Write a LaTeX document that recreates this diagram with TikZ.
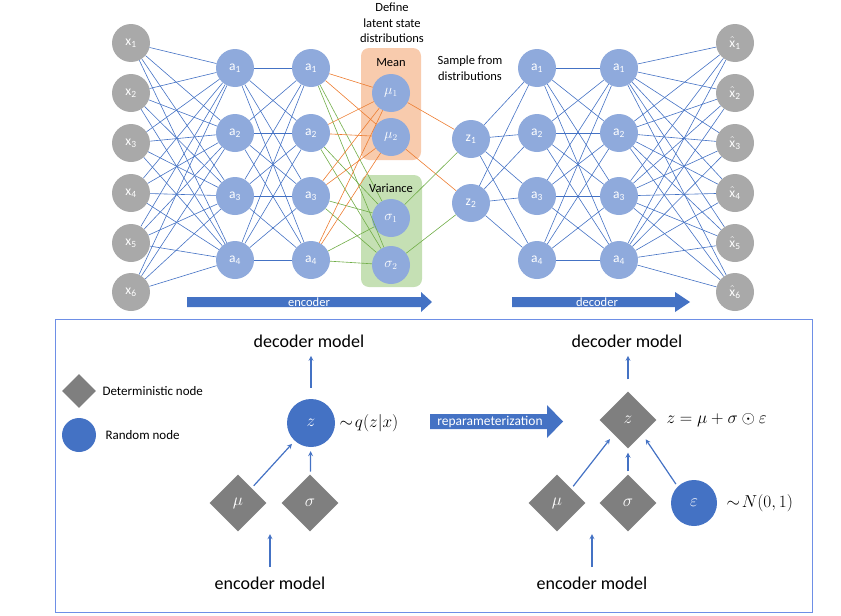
\documentclass[tikz,border=0pt]{standalone}
\usepackage{fontspec}
\setmainfont{Carlito}
\usetikzlibrary{shapes.geometric}
\definecolor{unitblue}{HTML}{8FAADC}
\definecolor{unitgray}{HTML}{A9A9A9}
\definecolor{lineblue}{HTML}{4472C4}
\definecolor{lineorange}{HTML}{ED7D31}
\definecolor{linegreen}{HTML}{70AD47}
\definecolor{meanfill}{HTML}{F8CBAD}
\definecolor{varfill}{HTML}{C5E0B4}
\definecolor{detgray}{HTML}{7F7F7F}
\definecolor{boxblue}{HTML}{6E8FE6}
\begin{document}
\begin{tikzpicture}[x=1pt,y=-1pt,>=stealth,
	unit/.style={circle,fill=unitblue,minimum size=38pt,inner sep=0pt,text=white,font=\fontsize{13.5}{13.5}\selectfont},
	inunit/.style={unit,fill=unitgray},
	wire/.style={lineblue,line width=0.6pt},
	muwire/.style={wire,draw=lineorange},
	sigwire/.style={wire,draw=linegreen},
	detnode/.style={diamond,fill=detgray,minimum size=57pt,inner sep=0pt,text=white,font=\fontsize{17}{17}\selectfont},
	rndnode/.style={circle,fill=lineblue,minimum size=48pt,inner sep=0pt,text=white,font=\fontsize{17}{17}\selectfont},
	flow/.style={->,lineblue,line width=1.2pt,shorten <=3pt,shorten >=4pt},
	lbl/.style={font=\fontsize{12.5}{15.5}\selectfont,align=center},
	big/.style={font=\fontsize{18}{18}\selectfont},
	bigmath/.style={font=\fontsize{19}{19}\selectfont}]
	\useasboundingbox (0,0) rectangle (841,616);
	%Hop Mean, Variance
	\fill[meanfill,rounded corners=8pt] (361,48) rectangle (421,160);
	\fill[varfill,rounded corners=8pt] (361,175) rectangle (422,287);
	%Lop x
	\foreach \i/\y in {1/43,2/93,3/143,4/193,5/243,6/292}
		\node[inunit] (x\i) at (131,\y) {x\textsubscript{\i}};
	%Lop a
	\foreach \i/\y in {1/68,2/133,3/196,4/260}{
		\node[unit] (ea\i) at (235,\y) {a\textsubscript{\i}};
		\node[unit] (eb\i) at (311,\y) {a\textsubscript{\i}};
		\node[unit] (da\i) at (537,\y) {a\textsubscript{\i}};
		\node[unit] (db\i) at (619,\y) {a\textsubscript{\i}};
	}
	%mu, sigma, z
	\node[unit] (mu1) at (391,93) {$\mu_1$};
	\node[unit] (mu2) at (391,137) {$\mu_2$};
	\node[unit] (sg1) at (391,218) {$\sigma_1$};
	\node[unit] (sg2) at (391,265) {$\sigma_2$};
	\node[unit] (z1) at (471,139) {z\textsubscript{1}};
	\node[unit] (z2) at (471,203) {z\textsubscript{2}};
	%Lop x mu
	\foreach \i/\y in {1/43,2/93,3/143,4/193,5/243,6/292}
		\node[inunit] (y\i) at (735,\y) {$\hat{\mathrm{x}}$\textsubscript{\i}};
	%Day noi
	\foreach \i in {1,...,6} \foreach \j in {1,...,4} {
		\draw[wire] (x\i) -- (ea\j);
		\draw[wire] (db\j) -- (y\i);
	}
	\foreach \i in {1,...,4} \foreach \j in {1,...,4} {
		\draw[wire] (ea\i) -- (eb\j);
		\draw[wire] (da\i) -- (db\j);
	}
	\foreach \i in {1,...,4} \foreach \j in {1,2} {
		\draw[muwire] (eb\i) -- (mu\j);
		\draw[sigwire] (eb\i) -- (sg\j);
		\draw[wire] (z\j) -- (da\i);
	}
	\draw[muwire] (mu1) -- (z1);
	\draw[muwire] (mu2) -- (z2);
	\draw[sigwire] (sg1) -- (z1);
	\draw[sigwire] (sg2) -- (z2);
	%Chu
	\node[lbl] (deftxt) at (392,23) {Define\\latent state\\distributions};
	\node[lbl] (samtxt) at (470,68) {Sample from\\distributions};
	\node[lbl] (meantxt) at (391,63) {Mean};
	\node[lbl] (vartxt) at (391,188) {Variance};
	%Mui ten encoder, decoder
	\fill[lineblue] (187,297) -- (421,297) -- (421,292) -- (432,302) -- (421,312) -- (421,307) -- (187,307) -- cycle;
	\node[text=white,font=\fontsize{12.5}{12.5}\selectfont] (enctxt) at (309,302) {encoder};
	\fill[lineblue] (512,297) -- (675,297) -- (675,292) -- (690,302) -- (675,312) -- (675,307) -- (512,307) -- cycle;
	\node[text=white,font=\fontsize{12.5}{12.5}\selectfont] (dectxt) at (597,302) {decoder};
	%Khung duoi
	\draw[boxblue,line width=1pt] (55,319) rectangle (812,612);
	%Chu thich
	\node[detnode,minimum size=34pt] (legdet) at (79,391) {};
	\node[anchor=west,font=\fontsize{13}{13}\selectfont] (legdettxt) at (99,391) {Deterministic node};
	\node[rndnode,minimum size=34pt] (legrnd) at (79,435) {};
	\node[anchor=west,font=\fontsize{13}{13}\selectfont] (legrndtxt) at (102,435) {Random node};
	%Ben trai
	\node[rndnode] (zl) at (311,423) {$z$};
	\node[bigmath,anchor=west] (ql) at (336,423) {$\sim\! q(z|x)$};
	\node[big] (decl) at (309,341) {decoder model};
	\node[detnode] (mul) at (238,503) {$\mu$};
	\node[detnode] (sgl) at (310,503) {$\sigma$};
	\node[big] (encl) at (270,583) {encoder model};
	\draw[flow,shorten <=11pt,shorten >=5pt] (zl.north) -- (zl.north |- decl.south);
	\draw[flow] (mul) -- (zl);
	\draw[flow] (sgl) -- (zl);
	\draw[flow,shorten <=6pt,shorten >=0pt] (encl.north) -- ++(0,-39);
	%Mui ten reparameterization
	\fill[lineblue] (430,414) -- (547,414) -- (547,405) -- (563,421.5) -- (547,438) -- (547,429) -- (430,429) -- cycle;
	\node[text=white,font=\fontsize{13.5}{13.5}\selectfont] (reptxt) at (490,421.5) {reparameterization};
	%Ben phai
	\node[detnode] (zr) at (628,420) {$z$};
	\node[bigmath,anchor=west] (zeq) at (663,420) {$z=\mu+\sigma\odot\varepsilon$};
	\node[big] (decr) at (627,341) {decoder model};
	\node[detnode] (mur) at (557,503) {$\mu$};
	\node[detnode] (sgr) at (628,503) {$\sigma$};
	\node[rndnode,minimum size=46pt] (epsr) at (694,503) {$\varepsilon$};
	\node[bigmath,anchor=west] (nr) at (723,503) {$\sim\! N(0,1)$};
	\node[big] (encr) at (592,583) {encoder model};
	\draw[flow,shorten <=12pt,shorten >=5pt] (zr.north) -- (zr.north |- decr.south);
	\draw[flow,shorten >=6pt] (mur.north east) -- (zr.south west);
	\draw[flow] (sgr) -- (zr);
	\draw[flow,shorten >=6pt] (epsr.north west) -- (zr.south east);
	\draw[flow,shorten <=6pt,shorten >=0pt] (encr.north) -- ++(0,-39);
\end{tikzpicture}
\end{document}
